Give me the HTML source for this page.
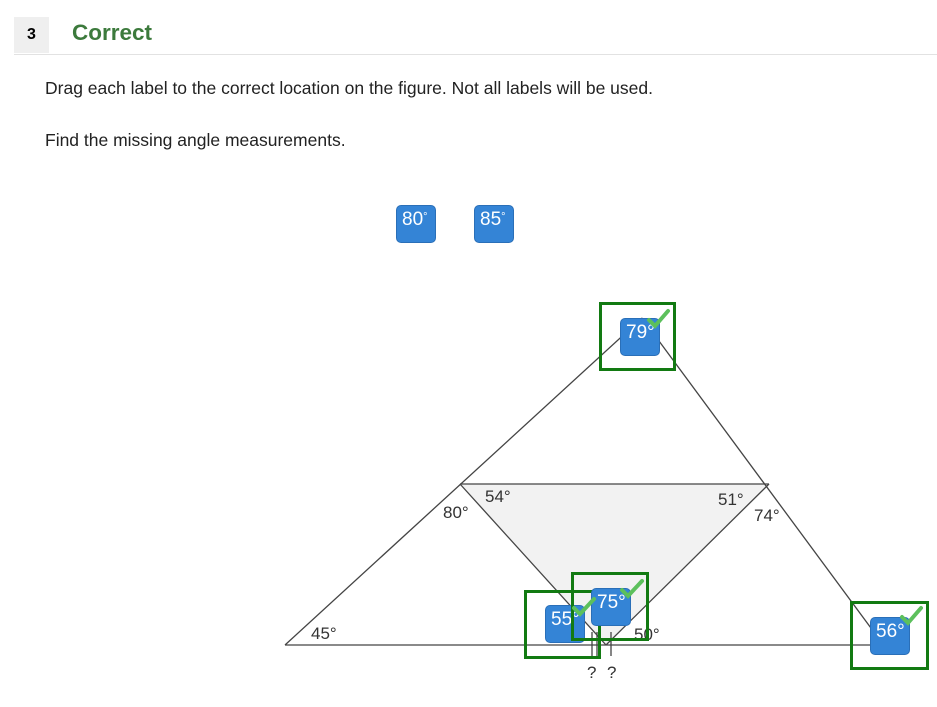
<!DOCTYPE html>
<html><head><style>
body{margin:0;width:937px;height:707px;background:#fff;font-family:"Liberation Sans",Arial,sans-serif;position:relative;overflow:hidden}
.abs{position:absolute}
.chip{position:absolute;width:40px;height:38px;background:#3484d6;border:1px solid #2a6fb8;border-radius:5px;color:#fff;font-size:19px;box-sizing:border-box;padding:3px 0 0 5px}
.box{position:absolute;border:3px solid #127a12;box-sizing:border-box}
</style></head><body>
<div class="abs" style="left:14px;top:17px;width:35px;height:36px;background:#efefef;font-size:16px;font-weight:bold;line-height:36px;text-align:center">3</div>
<div class="abs" style="left:72px;top:20px;font-size:22.5px;font-weight:bold;color:#3c7a3c">Correct</div>
<div class="abs" style="left:14px;top:54px;width:923px;height:1px;background:#e2e2e2"></div>
<div class="abs" style="left:45px;top:78px;font-size:17.5px;color:#222">Drag each label to the correct location on the figure. Not all labels will be used.</div>
<div class="abs" style="left:45px;top:130px;font-size:17.5px;color:#222">Find the missing angle measurements.</div>
<div class="chip" style="left:396px;top:205px;">80<span style="font-size:11px;vertical-align:5px">°</span></div>
<div class="chip" style="left:474px;top:205px;">85<span style="font-size:11px;vertical-align:5px">°</span></div>
<svg class="abs" style="left:0;top:0" width="937" height="707">
<polygon points="460,484 769,484 606,645" fill="#f2f2f2"/>
<g stroke="#444" stroke-width="1.3" fill="none">
<line x1="285" y1="645" x2="880" y2="645"/>
<line x1="285" y1="645" x2="642" y2="318"/>
<line x1="642" y1="318" x2="882" y2="643"/>
<line x1="460" y1="484" x2="769" y2="484"/>
<line x1="460" y1="484" x2="606" y2="645"/>
<line x1="769" y1="484" x2="606" y2="645"/>
<line x1="592" y1="632" x2="592" y2="656"/>
<line x1="597" y1="632" x2="597" y2="656"/>
<line x1="611" y1="632" x2="611" y2="656"/>
</g>
<g font-family="Liberation Sans,Arial,sans-serif" font-size="17" fill="#333">
<text x="311" y="639">45°</text>
<text x="443" y="518">80°</text>
<text x="485" y="502">54°</text>
<text x="718" y="505">51°</text>
<text x="754" y="521">74°</text>
<text x="634" y="640">50°</text>
<text x="587" y="678">?</text>
<text x="607" y="678">?</text>
</g>
</svg>
<div class="chip" style="left:620px;top:318px;">79°</div>
<div class="box" style="left:599px;top:302px;width:77px;height:69px"></div>
<div class="chip" style="left:545px;top:605px;">55°</div>
<div class="box" style="left:524px;top:590px;width:77px;height:69px"></div>
<div class="chip" style="left:591px;top:588px;">75°</div>
<div class="box" style="left:571px;top:572px;width:78px;height:69px"></div>
<div class="chip" style="left:870px;top:617px;">56°</div>
<div class="box" style="left:850px;top:601px;width:79px;height:69px"></div>
<svg class="abs" style="left:0;top:0" width="937" height="707">
<g stroke="#5cc05c" stroke-width="4" fill="none" stroke-linecap="round">
<polyline points="649,320 655,326 668,311"/>
<polyline points="574,608 580,614 594,599"/>
<polyline points="622,590 628,596 642,581"/>
<polyline points="902,617 908,623 921,608"/>
</g></svg>
</body></html>
